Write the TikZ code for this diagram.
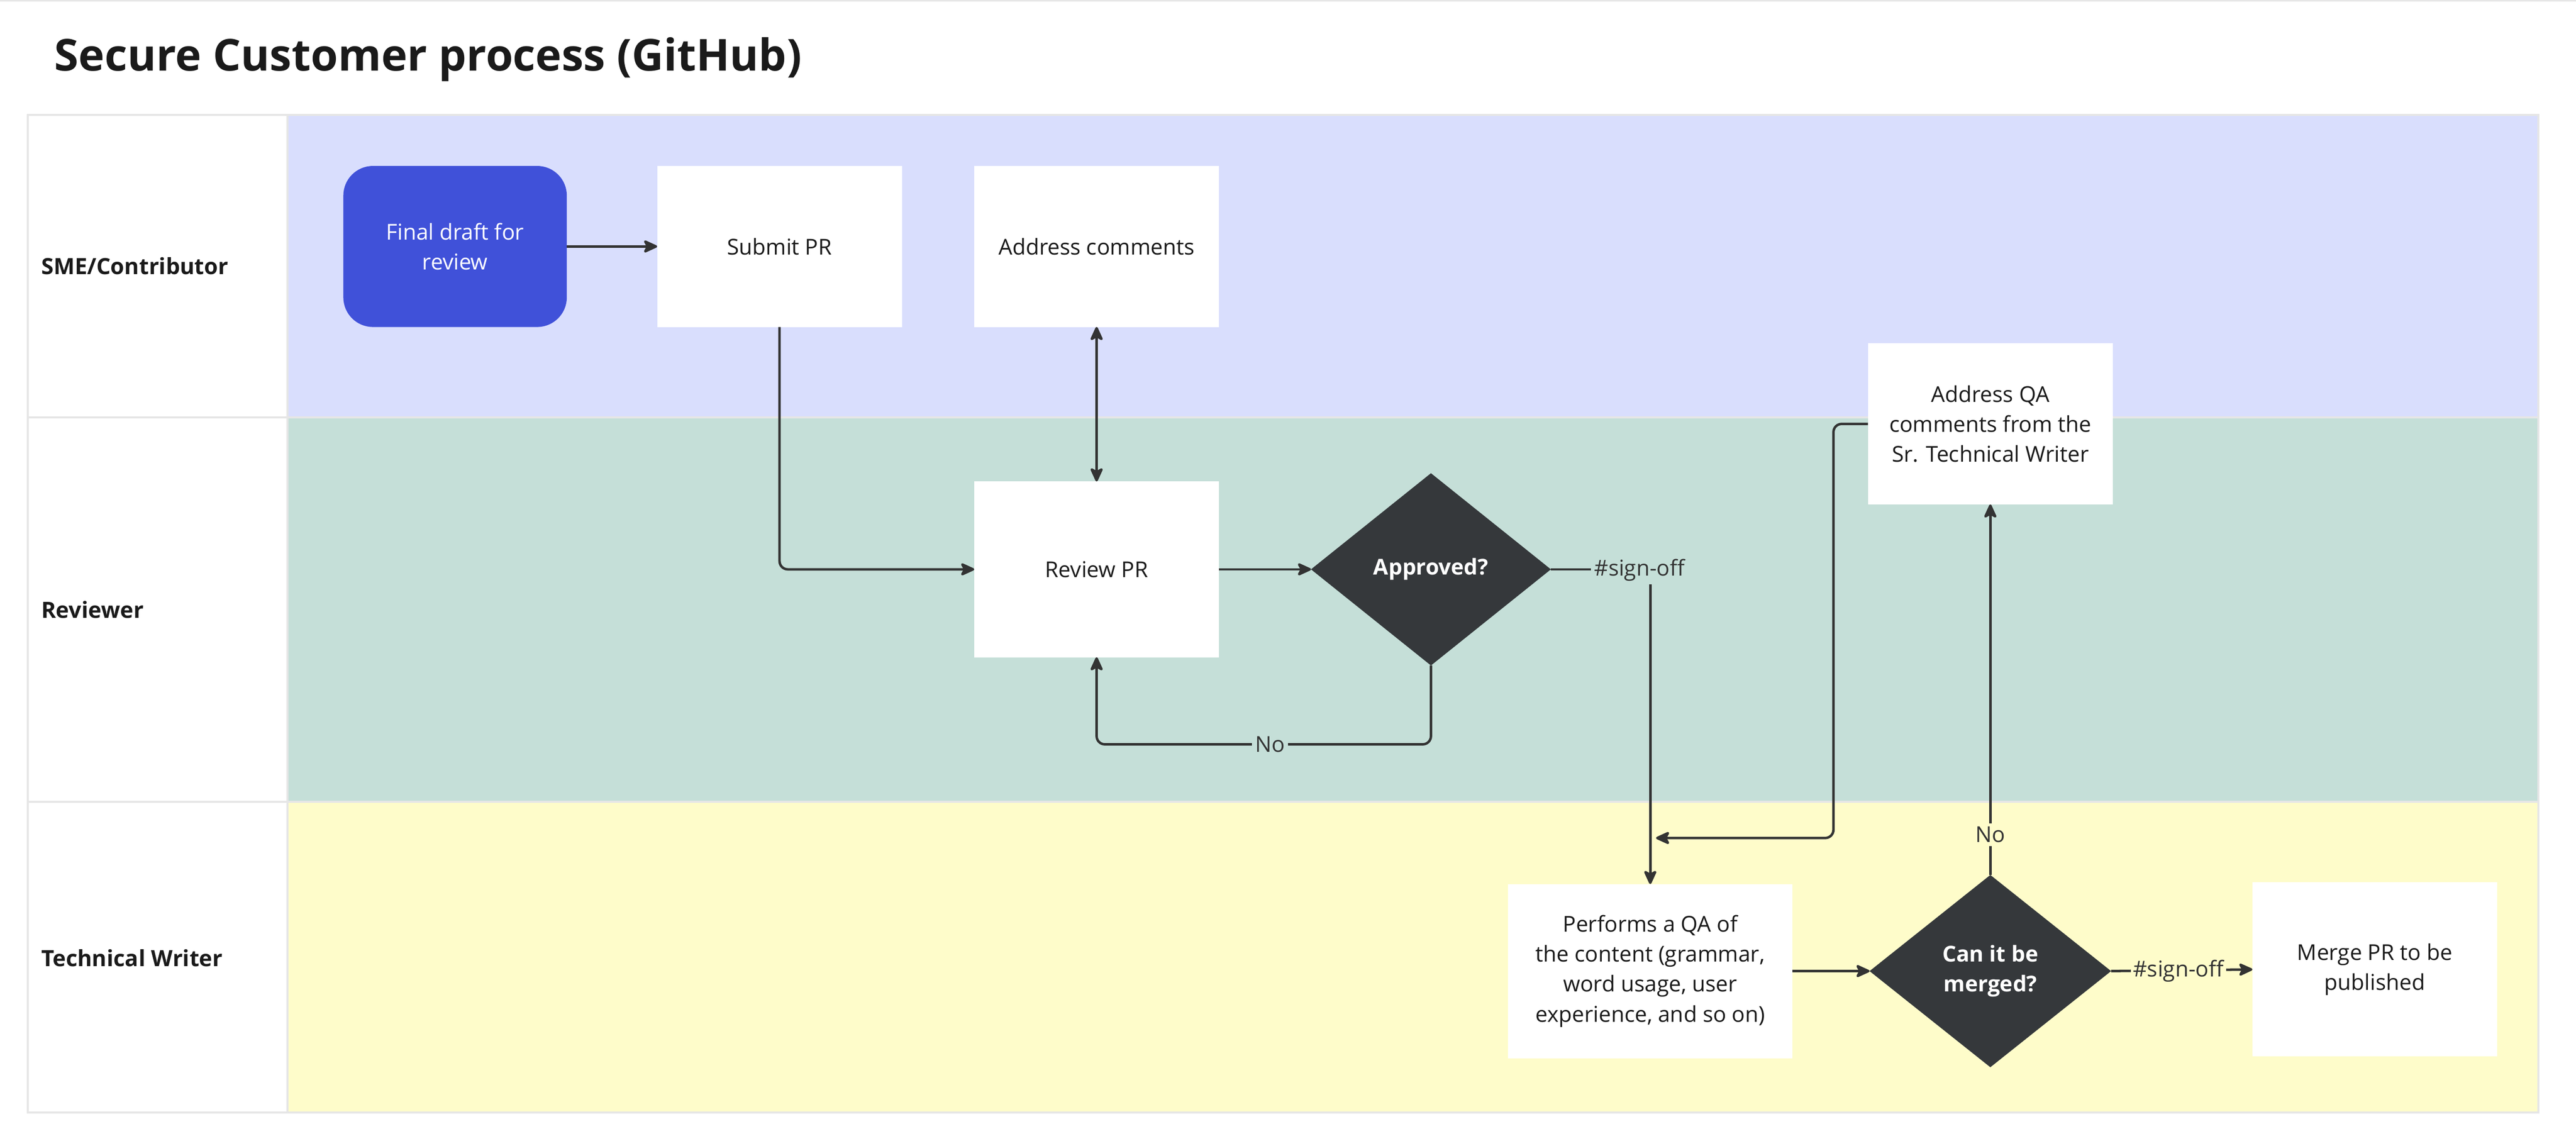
\documentclass[tikz,border=0pt]{standalone}
\usepackage{fontspec}
\setmainfont{Open Sans}
\usetikzlibrary{shapes.geometric,arrows.meta,calc}
\definecolor{lblue}{HTML}{D9DEFD}
\definecolor{lgreen}{HTML}{C5DFD8}
\definecolor{lyellow}{HTML}{FEFCCA}
\definecolor{darkd}{HTML}{35383B}
\definecolor{startblue}{HTML}{4051D9}
\definecolor{gridc}{HTML}{E6E6E6}
\definecolor{linec}{HTML}{333333}
\definecolor{txt}{HTML}{1A1A1A}
\tikzset{
  boxtxt/.style={font=\fontsize{13.3}{18.3}\selectfont, text=txt, align=center},
  stepbox/.style={boxtxt, rectangle, fill=white, draw=none, outer sep=0pt, inner sep=0pt},
  startbox/.style={boxtxt, rectangle, rounded corners=18pt, fill=startblue, text=white, draw=none, outer sep=0pt, inner sep=0pt},
  decision/.style={diamond, fill=darkd, draw=none, outer sep=0pt, inner sep=0pt, text=white, align=center, font=\fontsize{13.3}{18.3}\selectfont\bfseries},
  lanelabel/.style={anchor=west, inner sep=0pt, font=\fontsize{13.6}{16}\selectfont\bfseries, text=txt},
  tip/.tip={Stealth[length=10pt,width=9pt,inset=2.5pt,round]},
  conn/.style={draw=linec, line width=1.5pt, -tip},
  lbl/.style={font=\fontsize{13.3}{16}\selectfont, text=linec, inner sep=2pt}
}
\begin{document}
\begin{tikzpicture}[x=1pt,y=-1pt]
\useasboundingbox[fill=white] (0,0) rectangle (1568,697.4);
\draw[gridc, line width=0.8pt] (0,0.5) -- (1568,0.5);
% title
\node[anchor=base west, font=\fontsize{26.8}{32}\selectfont\bfseries, text=txt, inner sep=0pt] (title) at (33,43) {Secure Customer process (GitHub)};
% lanes
\fill[lblue] (175,70) rectangle (1545,254);
\fill[lgreen] (175,254) rectangle (1545,488);
\fill[lyellow] (175,488) rectangle (1545,677);
\draw[gridc, line width=1.2pt] (17,70) rectangle (1545,677);
\draw[gridc, line width=1.2pt] (17,254) -- (1545,254);
\draw[gridc, line width=1.2pt] (17,488) -- (1545,488);
\draw[gridc, line width=1.2pt] (175,70) -- (175,677);
\node[lanelabel] (l1) at (25,162) {SME/Contributor};
\node[lanelabel] (l2) at (25,371) {Reviewer};
\node[lanelabel] (l3) at (25,583) {Technical Writer};
% nodes
\node[startbox, minimum width=136pt, minimum height=98pt] (final) at (277,150) {Final draft for\\review};
\node[stepbox, minimum width=149pt, minimum height=98pt] (submit) at (474.5,150) {Submit PR};
\node[stepbox, minimum width=149pt, minimum height=98pt] (addr) at (667.5,150) {Address comments};
\node[stepbox, minimum width=149pt, minimum height=107pt] (review) at (667.5,346.5) {Review PR};
\node[decision, minimum width=146pt, minimum height=117pt] (approved) at (871,346.5) {Approved?};
\node[stepbox, minimum width=149pt, minimum height=98pt] (addrqa) at (1211.5,258) {Address QA\\comments from the\\Sr. Technical Writer};
\node[stepbox, minimum width=173pt, minimum height=106pt] (qa) at (1004.5,591) {Performs a QA of\\the content (grammar,\\word usage, user\\experience, and so on)};
\node[decision, minimum width=147pt, minimum height=117pt] (merge) at (1211.5,591) {Can it be\\merged?};
\node[stepbox, minimum width=149pt, minimum height=106pt] (mergepr) at (1445.5,590) {Merge PR to be\\published};
% connectors
\draw[conn] (final.east) -- (submit.west);
\draw[conn, rounded corners=5pt] (submit.south) |- (review.west);
\draw[conn, tip-tip] (addr.south) -- (review.north);
\draw[conn] (review.east) -- (approved.west);
\draw[conn] (approved.east) -| (qa.north);
\node[lbl, fill=lgreen] (so1) at (998,347) {\#sign-off};
\draw[conn, rounded corners=5pt] (approved.south) -- ++(0,48) -| (review.south);
\node[lbl, fill=lgreen] (no1) at (773,453) {No};
\coordinate (qaj) at (1008,510);
\draw[conn, rounded corners=5pt] (addrqa.west) -- ++(-21,0) |- (qaj);
\draw[conn] (merge.north) -- (addrqa.south);
\node[lbl, fill=lyellow] (no2) at (1211.5,508) {No};
\draw[conn] (qa.east) -- (merge.west);
\draw[conn] (merge.east) -- (mergepr.west);
\node[lbl, fill=lyellow, inner sep=1.5pt] (so2) at (1326,591) {\#sign-off};
\end{tikzpicture}
\end{document}
